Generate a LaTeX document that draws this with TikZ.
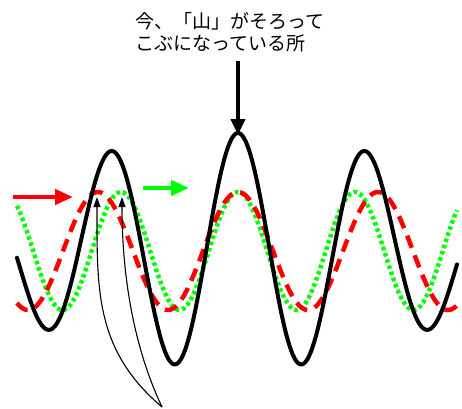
\documentclass[tikz,border=0pt]{standalone}
\usepackage{fontspec}
\newfontfamily\jpfont{Noto Sans CJK JP}
\usetikzlibrary{arrows.meta}
\definecolor{wred}{RGB}{255,0,0}
\definecolor{wgreen}{RGB}{0,255,0}
\begin{document}
\begin{tikzpicture}[x=1pt,y=-1pt,
  blackwave/.style={black,line width=4pt,line join=round,line cap=round},
  redwave/.style={wred,line width=4.5pt,dash pattern=on 13pt off 8pt},
  greenwave/.style={wgreen,line width=4.5pt,dash pattern=on 3.5pt off 3pt},
  bigarrow/.style={line width=4.5pt,-{Triangle[length=18pt,width=15pt]}},
  thinarrow/.style={black,line width=1.1pt,-{Triangle[length=10pt,width=7pt]}}]
\useasboundingbox (0,0) rectangle (462,408);
\fill[white] (0,0) rectangle (462,408);
\node[anchor=north west,align=left,inner sep=0pt,
  font=\jpfont\fontsize{19}{22}\selectfont] (label) at (135,12)
  {今、「山」がそろって\\こぶになっている所};
% waves
\draw[greenwave] plot[domain=17:457,samples=300] (\x,{251-59*cos((\x-238)/117*360)});
\draw[redwave] plot[domain=17:457,samples=300] (\x,{251-59*cos((\x-238)/140*360)});
\draw[blackwave] plot[domain=17:457,samples=400] (\x,{251-59*cos((\x-238)/140*360)-59*cos((\x-238)/117*360)});
% arrows
\coordinate (r1) at (13,197);
\coordinate (r2) at (73,197);
\draw[bigarrow,wred] (r1) -- (r2);
\coordinate (g1) at (143,188);
\coordinate (g2) at (189,188);
\draw[bigarrow,wgreen] (g1) -- (g2);
\coordinate (k1) at (238,61);
\coordinate (k2) at (238,135);
\draw[bigarrow,black,-{Triangle[length=16pt,width=14pt]}] (k1) -- (k2);
% thin arrows
\coordinate (base) at (162,407);
\coordinate (t1) at (97,197);
\coordinate (t2) at (122,197);
\draw[thinarrow] (base) .. controls (95,350) and (97,290) .. (t1);
\draw[thinarrow] (base) .. controls (135,350) and (122,280) .. (t2);
\end{tikzpicture}
\end{document}
